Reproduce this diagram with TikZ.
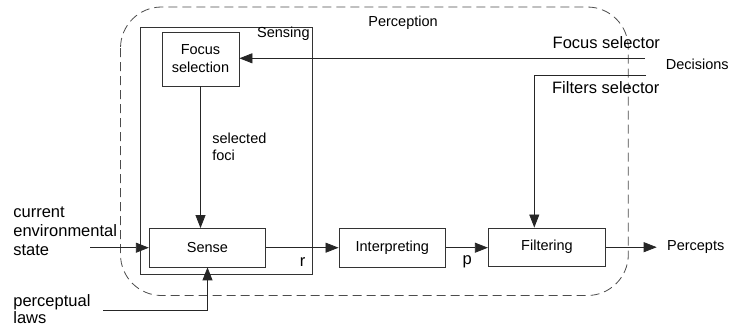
\documentclass[tikz,border=0pt]{standalone}
\usepackage{fontspec}
\setmainfont{Liberation Sans}
\usetikzlibrary{arrows.meta}
\begin{document}
\begin{tikzpicture}[x=1pt,y=-1pt,
  line width=0.8pt,
  box/.style={draw=black!80, fill=white, inner sep=0pt, align=center, font=\fontsize{14.5}{17}\selectfont},
  lbl/.style={inner sep=0pt, font=\fontsize{14.5}{17}\selectfont},
  biglbl/.style={inner sep=0pt, font=\fontsize{16.5}{19}\selectfont},
  arr/.style={draw=black!85, -{Triangle[length=13pt,width=10pt]}},
  ln/.style={draw=black!85},
  percdash/.style={draw=black!70, dash pattern=on 9pt off 5pt, rounded corners=41pt}]
\useasboundingbox (0,0) rectangle (729,327);
% Perception region
\draw[percdash] (120.5,7) rectangle (628.3,295.5);
\node[lbl, anchor=base west] (perc) at (368,26.7) {Perception};
% Sensing box
\node[draw=black!80, minimum width=172pt, minimum height=247pt, inner sep=0pt] (sensing) at (226,150.5) {};
\node[lbl, anchor=base east] (sensinglbl) at (310,37.7) {Sensing};
% boxes
\node[box, minimum width=77pt, minimum height=54pt] (FS) at (200.5,59) {Focus\\[1pt]selection};
\node[box, minimum width=116.5pt, minimum height=38.5pt] (S) at (207.5,247.7) {Sense};
\node[box, minimum width=106.7pt, minimum height=38.5pt] (I) at (392.3,247.7) {Interpreting};
\node[box, minimum width=117.4pt, minimum height=38.5pt] (F) at (547,247.2) {Filtering};
% labels
\node[lbl, anchor=base west, align=left] (foci) at (212,160) {selected\\foci};
\node[biglbl, anchor=base west, align=left] (cur) at (13,255) {current\\environmental\\state};
\node[biglbl, anchor=base west, align=left] (laws) at (13,323.5) {perceptual\\[-2pt]laws};
\node[biglbl, anchor=base] (r) at (302.7,266.7) {r};
\node[biglbl, anchor=base] (p) at (467.3,264.5) {p};
\node[biglbl, anchor=base west] (focsel) at (552.3,48.3) {Focus selector};
\node[biglbl, anchor=base west] (filsel) at (551.7,93.3) {Filters selector};
\node[lbl, anchor=base west] (dec) at (665.5,69.3) {Decisions};
\node[lbl, anchor=west, inner xsep=10pt] (perc2) at (656.7,247) {Percepts};
% connector endpoints
\coordinate (curstart) at (90,247.7);
\coordinate (lawstart) at (103.3,310.7);
\coordinate (focend) at (645,58.3);
\coordinate (filend) at (646,75.7);
\coordinate (filcorner) at (534.3,75.7);
% connectors
\draw[arr] (focend) -- (FS.east |- focend);
\draw[arr] (FS.south) -- (FS.south |- S.north);
\draw[arr] (curstart) -- (S.west);
\draw[arr] (lawstart) -| (S.south);
\draw[arr] (S.east) -- (I.west |- S.east);
\draw[arr] (I.east) -- (F.west |- I.east);
\draw[ln] (filend) -- (filcorner);
\draw[arr] (filcorner) -- (filcorner |- F.north);
\draw[arr] (F.east) -- (perc2.west |- F.east);
\end{tikzpicture}
\end{document}
